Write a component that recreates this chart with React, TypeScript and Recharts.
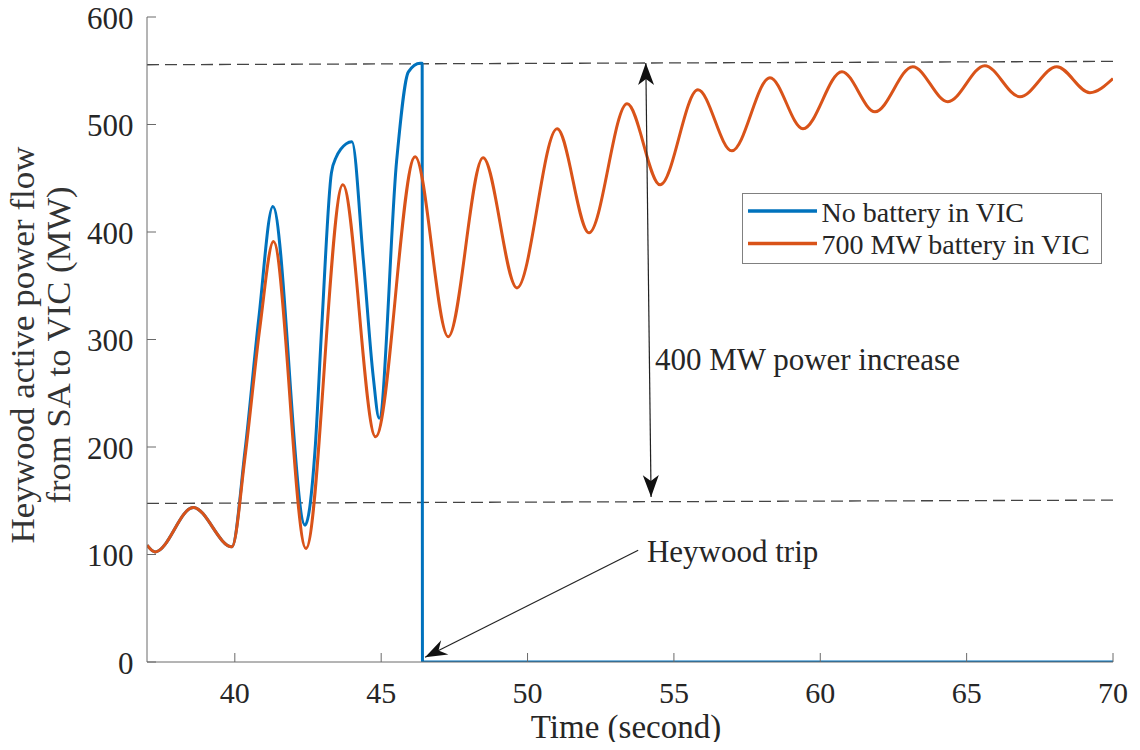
import React from 'react';
import { LineChart, Line, XAxis, YAxis, ReferenceLine, ReferenceDot, Legend } from 'recharts';

const FONT = '"Liberation Serif", "Times New Roman", serif';
const BLUE = '#0072BD';
const ORANGE = '#D95319';
const FRAME = '#6a6a6a';
const TEXT = '#262626';

// Axes
const xTicks = [40, 45, 50, 55, 60, 65, 70];
const yTicks = [0, 100, 200, 300, 400, 500, 600];
const xDomain = [37, 70];
const yDomain = [0, 600];

// Series: No battery in VIC
const noBatteryTime = [37.0, 37.28, 38.58, 39.9, 40.35, 40.82, 41.3, 42.4, 42.74, 42.97, 43.3, 43.47, 43.62, 43.8, 44.0, 44.39, 44.73, 44.93, 45.53, 45.93, 46.33, 46.4, 46.41, 70.0];
const noBatteryFlow = [108.7, 102.4, 143.8, 107.1, 197, 320, 423.7, 127.3, 197, 312, 455, 470, 477, 482, 484, 374, 265, 226.8, 467, 549, 557, 557, 0, 0];

// Series: 700 MW battery in VIC
const batteryTime = [37.0, 37.28, 38.58, 39.9, 40.35, 40.86, 41.32, 42.43, 43.69, 44.81, 46.16, 47.29, 48.48, 49.64, 51.01, 52.1, 53.4, 54.53, 55.82, 56.98, 58.28, 59.41, 60.74, 61.87, 63.16, 64.36, 65.62, 66.82, 68.08, 69.21, 70.0];
const batteryFlow = [108.7, 102.4, 143.8, 107.1, 190.9, 311.9, 391.1, 105.6, 443.9, 209.5, 470.0, 302.6, 469.0, 348.0, 496.0, 399.2, 519.3, 443.9, 532.3, 475.5, 543.5, 496.0, 549.1, 511.8, 553.8, 521.2, 554.7, 525.8, 553.8, 529.6, 542.7];

const seriesNames = ['No battery in VIC', '700 MW battery in VIC'];

// Annotations (data coordinates)
const upperDashed = [{ x: 37, y: 555.6 }, { x: 70, y: 558.7 }];
const lowerDashed = [{ x: 37, y: 147.5 }, { x: 70, y: 150.6 }];
const increaseArrow = [{ x: 54.22, y: 153.4 }, { x: 54.04, y: 557.2 }];
const tripArrow = [{ x: 53.78, y: 104 }, { x: 46.5, y: 4.4 }];
const increaseLabel = { x: 54.35, y: 271.6, text: '400 MW power increase' };
const tripLabel = { x: 54.08, y: 92.8, text: 'Heywood trip' };

const noBatteryData = noBatteryTime.map((t, i) => ({ t, v: noBatteryFlow[i] }));
const batteryData = batteryTime.map((t, i) => ({ t, v: batteryFlow[i] }));

const head = (tx: number, ty: number, fx: number, fy: number, L = 22, W = 8, N = 16) => {
  const dx = tx - fx;
  const dy = ty - fy;
  const len = Math.hypot(dx, dy) || 1;
  const ux = dx / len;
  const uy = dy / len;
  const nx = -uy;
  const ny = ux;
  const pts = [
    [tx, ty],
    [tx - L * ux + W * nx, ty - L * uy + W * ny],
    [tx - N * ux, ty - N * uy],
    [tx - L * ux - W * nx, ty - L * uy - W * ny],
  ];
  return <polygon points={pts.map((p) => p.join(',')).join(' ')} fill="#111" />;
};

const DoubleArrow = (p: any) => {
  const { x1, y1, x2, y2 } = p;
  return (
    <g>
      <line x1={x1} y1={y1} x2={x2} y2={y2} stroke="#222" strokeWidth={1.2} />
      {head(x1, y1, x2, y2)}
      {head(x2, y2, x1, y1)}
    </g>
  );
};

const SingleArrow = (p: any) => {
  const { x1, y1, x2, y2 } = p;
  return (
    <g>
      <line x1={x1} y1={y1} x2={x2} y2={y2} stroke="#222" strokeWidth={1.2} />
      {head(x2, y2, x1, y1, 22, 8, 15)}
    </g>
  );
};

const makeTextShape = (text: string, size: number) => (p: any) => (
  <text x={p.cx} y={p.cy} fontFamily={FONT} fontSize={size} fill={TEXT} textAnchor="start">
    {text}
  </text>
);

const BottomTick = (p: any) => {
  const { x, y, payload } = p;
  return (
    <g>
      <line x1={x} y1={y} x2={x} y2={y - 9} stroke={FRAME} strokeWidth={1} />
      <text x={x} y={y + 40.5} textAnchor="middle" fontFamily={FONT} fontSize={30} fill={TEXT}>
        {payload.value}
      </text>
    </g>
  );
};

const TopTick = (p: any) => {
  const { x, y } = p;
  return <line x1={x} y1={y} x2={x} y2={y + 9} stroke={FRAME} strokeWidth={1} />;
};

const LeftTick = (p: any) => {
  const { x, y, payload } = p;
  return (
    <g>
      <line x1={x} y1={y} x2={x + 9} y2={y} stroke={FRAME} strokeWidth={1} />
      <text x={x - 13.5} y={y + 11.5} textAnchor="end" fontFamily={FONT} fontSize={31} fill={TEXT}>
        {payload.value}
      </text>
    </g>
  );
};

const RightTick = (p: any) => {
  const { x, y } = p;
  return <line x1={x} y1={y} x2={x - 9} y2={y} stroke={FRAME} strokeWidth={1} />;
};

const XTitle = (p: any) => {
  const vb = p.viewBox || { x: 0, y: 0, width: 0, height: 0 };
  return (
    <text x={vb.x + vb.width / 2 - 4} y={vb.y + 76} textAnchor="middle" fontFamily={FONT} fontSize={33} fill={TEXT}>
      Time (second)
    </text>
  );
};

const YTitle = (p: any) => {
  const vb = p.viewBox || { x: 0, y: 0, width: 0, height: 0 };
  const cy = vb.y + vb.height / 2 + 5.5;
  const x1 = vb.x + 34;
  const x2 = vb.x + 70;
  return (
    <g fontFamily={FONT} fontSize={34} fill="#333">
      <text x={x1} y={cy} textAnchor="middle" transform={`rotate(-90, ${x1}, ${cy})`} textLength={397} lengthAdjust="spacingAndGlyphs">
        Heywood active power flow
      </text>
      <text x={x2} y={cy} textAnchor="middle" transform={`rotate(-90, ${x2}, ${cy})`} textLength={317} lengthAdjust="spacingAndGlyphs">
        from SA to VIC (MW)
      </text>
    </g>
  );
};

const LegendBox = (p: any) => {
  const raw = (p.payload || []) as any[];
  const items = [...raw].sort((a, b) => seriesNames.indexOf(a.value) - seriesNames.indexOf(b.value));
  return (
    <svg width={361} height={71} style={{ display: 'block' }}>
      <rect x={0.5} y={0.5} width={359} height={70} fill="#fff" stroke="#808080" strokeWidth={1} />
      {items.map((it, i) => (
        <g key={i}>
          <line x1={6} x2={75} y1={18 + i * 32.5} y2={18 + i * 32.5} stroke={it.color} strokeWidth={3.5} />
          <text x={79.5} y={28.5 + i * 32} fontFamily={FONT} fontSize={28} fill={TEXT}>
            {it.value}
          </text>
        </g>
      ))}
    </svg>
  );
};

export default function App() {
  return (
    <div style={{ margin: -8, width: 1140, height: 750, background: '#fff', overflow: 'hidden' }}>
      <style>{'.recharts-surface{overflow:visible}'}</style>
      <LineChart width={1140} height={750} margin={{ top: 17, right: 27, left: 0, bottom: 0 }}>
        <XAxis
          dataKey="t"
          type="number"
          domain={xDomain}
          ticks={xTicks}
          allowDataOverflow
          height={88}
          tickSize={0}
          tickMargin={0}
          tickLine={false}
          axisLine={{ stroke: FRAME, strokeWidth: 1 }}
          tick={BottomTick}
          interval={0}
          label={XTitle}
        />
        <XAxis
          xAxisId="top"
          orientation="top"
          dataKey="t"
          type="number"
          domain={xDomain}
          ticks={xTicks}
          allowDataOverflow
          height={0}
          tickSize={0}
          tickMargin={0}
          tickLine={false}
          axisLine={{ stroke: FRAME, strokeWidth: 1 }}
          tick={TopTick}
          interval={0}
        />
        <YAxis
          type="number"
          domain={yDomain}
          ticks={yTicks}
          allowDataOverflow
          width={147}
          tickSize={0}
          tickMargin={0}
          tickLine={false}
          axisLine={{ stroke: FRAME, strokeWidth: 1 }}
          tick={LeftTick}
          interval={0}
          label={YTitle}
        />
        <YAxis
          yAxisId="right"
          orientation="right"
          type="number"
          domain={yDomain}
          ticks={yTicks}
          allowDataOverflow
          width={0}
          tickSize={0}
          tickMargin={0}
          tickLine={false}
          axisLine={{ stroke: FRAME, strokeWidth: 1 }}
          tick={RightTick}
          interval={0}
        />
        <Legend
          layout="vertical"
          align="center"
          verticalAlign="middle"
          content={LegendBox}
          wrapperStyle={{ left: 742, top: 193, width: 361, height: 71 }}
        />
        <ReferenceLine segment={upperDashed} stroke="#444" strokeWidth={1.3} strokeDasharray="12 6" ifOverflow="visible" />
        <ReferenceLine segment={lowerDashed} stroke="#444" strokeWidth={1.3} strokeDasharray="12 6" ifOverflow="visible" />
        <Line
          data={noBatteryData}
          dataKey="v"
          name={seriesNames[0]}
          type="monotone"
          stroke={BLUE}
          strokeWidth={3}
          dot={false}
          activeDot={false}
          isAnimationActive={false}
        />
        <Line
          data={batteryData}
          dataKey="v"
          name={seriesNames[1]}
          type="monotone"
          stroke={ORANGE}
          strokeWidth={3}
          dot={false}
          activeDot={false}
          isAnimationActive={false}
        />
        <ReferenceLine segment={increaseArrow} shape={DoubleArrow} ifOverflow="visible" />
        <ReferenceLine segment={tripArrow} shape={SingleArrow} ifOverflow="visible" />
        <ReferenceDot x={increaseLabel.x} y={increaseLabel.y} r={0} ifOverflow="visible" shape={makeTextShape(increaseLabel.text, 31)} />
        <ReferenceDot x={tripLabel.x} y={tripLabel.y} r={0} ifOverflow="visible" shape={makeTextShape(tripLabel.text, 31)} />
      </LineChart>
    </div>
  );
}
